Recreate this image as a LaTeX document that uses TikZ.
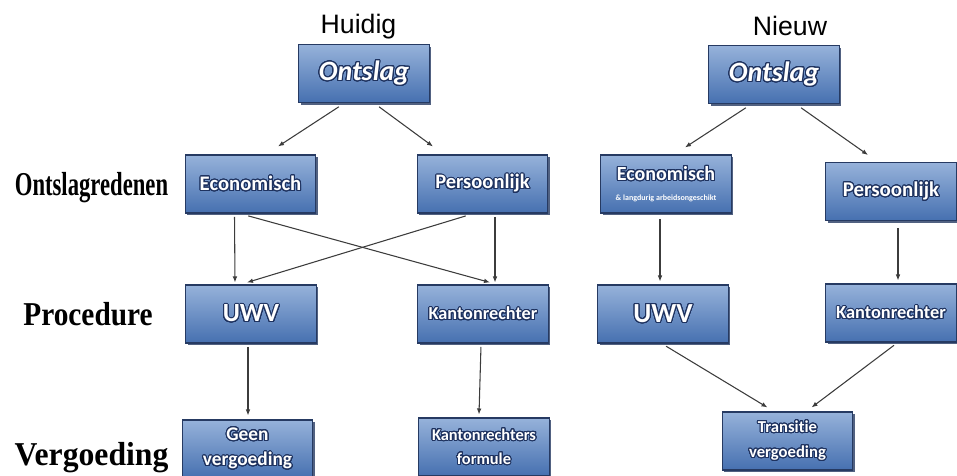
\documentclass[tikz,border=0pt]{standalone}
\usepackage{xcolor}
\usepackage{graphicx}
\usepackage{fontspec}
\usepackage{tikz}
\usepackage{contour}
\usetikzlibrary{arrows.meta,shadows,calc}

\newfontfamily\boxfont{Carlito}[Ligatures=NoCommon]
\newfontfamily\headfont{Liberation Sans}
\newfontfamily\rowfont{Liberation Serif}

\definecolor{blokrand}{RGB}{38,58,98}
\definecolor{bloktop}{RGB}{150,178,218}
\definecolor{blokbodem}{RGB}{70,112,176}
\definecolor{tekstrand}{RGB}{30,50,95}

\contourlength{0.75pt}
\contournumber{32}
\newcommand{\wit}[1]{\contour{tekstrand}{#1}}

\begin{document}
\begin{tikzpicture}[x=0.75pt,y=0.75pt,yscale=-1,xscale=1,
    blok/.style={draw=blokrand, line width=0.8pt, top color=bloktop, bottom color=blokbodem,
        minimum width=98pt, minimum height=43.5pt, inner sep=1pt, align=center, text=white,
        drop shadow={shadow xshift=1.5pt, shadow yshift=-1.5pt, fill=blokrand, opacity=0.8}},
    pijl/.style={draw={rgb,255:red,60;green,60;blue,60}, line width=0.8pt,
        -{Latex[length=4.5pt,width=3.5pt]}, shorten <=1pt},
    rij/.style={font=\rowfont\bfseries\fontsize{25}{30}\selectfont, anchor=base, inner sep=0pt},
    kop/.style={font=\headfont\fontsize{20}{24}\selectfont, anchor=base, inner sep=0pt}]

        \useasboundingbox (0,0) rectangle (957,475);

        % koppen
        \node [kop] (huidig) at (358.5,33) {Huidig};
        \node [kop] (nieuw) at (790,35) {Nieuw};

        % rijen
        \node [rij] (ontslagredenen) at (91.5,195) {\scalebox{0.68}[1]{Ontslagredenen}};
        \node [rij] (procedure) at (88,325) {\scalebox{0.88}[1]{Procedure}};
        \node [rij] (vergoeding) at (91.5,465) {\scalebox{0.95}[1]{Vergoeding}};

        % huidig
        \node [blok, font=\boxfont\bfseries\itshape\fontsize{21}{24}\selectfont] (ontslagH) at (364,73.5) {\wit{Ontslag}};
        \node [blok, font=\boxfont\bfseries\fontsize{15.5}{18}\selectfont] (econH) at (250.5,184) {\wit{Economisch}};
        \node [blok, font=\boxfont\bfseries\fontsize{15.4}{18}\selectfont] (persH) at (482.5,184) {\wit{Persoonlijk}};
        \node [blok, font=\boxfont\bfseries\fontsize{19.7}{22}\selectfont] (uwvH) at (251,314) {\wit{UWV}};
        \node [blok, font=\boxfont\bfseries\fontsize{13.7}{16}\selectfont] (kantonH) at (483,314) {\wit{Kantonrechter}};
        \node [blok, font=\boxfont\bfseries\fontsize{14.5}{19}\selectfont] (geenH) at (247.5,449) {\wit{Geen}\\\wit{vergoeding}};
        \node [blok, font=\boxfont\bfseries\fontsize{12.3}{18}\selectfont] (formuleH) at (484,447) {\wit{Kantonrechters}\\\wit{formule}};

        % nieuw
        \node [blok, font=\boxfont\bfseries\itshape\fontsize{21}{24}\selectfont] (ontslagN) at (774,74.5) {\wit{Ontslag}};
        \node [blok, font=\boxfont\bfseries\fontsize{15}{17}\selectfont] (econN) at (666,184) {\wit{Economisch}\\[-2pt]{\fontsize{6}{7}\selectfont \& langdurig arbeidsongeschikt}};
        \node [blok, font=\boxfont\bfseries\fontsize{15.7}{18}\selectfont] (persN) at (891,191.5) {\wit{Persoonlijk}};
        \node [blok, font=\boxfont\bfseries\fontsize{20.7}{22}\selectfont] (uwvN) at (663,314) {\wit{UWV}};
        \node [blok, font=\boxfont\bfseries\fontsize{13.8}{16}\selectfont] (kantonN) at (891,313) {\wit{Kantonrechter}};
        \node [blok, font=\boxfont\bfseries\fontsize{12.5}{18.75}\selectfont] (transN) at (787.5,441) {\wit{Transitie}\\\wit{vergoeding}};

        % pijlen huidig
        \draw [pijl] ($(ontslagH.south)+(-24,3)$) -- ($(econH.north)+(27.5,-8)$);
        \draw [pijl] ($(ontslagH.south)+(14,3)$) -- ($(persH.north)+(-49.5,-8)$);
        \draw [pijl] ($(econH.south)+(-16,2)$) -- ($(uwvH.north)+(-16,-2)$);
        \draw [pijl] ($(econH.south)+(-3.5,2)$) -- ($(kantonH.north)+(7,-2)$);
        \draw [pijl] ($(persH.south)+(-15.5,2)$) -- ($(uwvH.north)+(-4,-2)$);
        \draw [pijl] ($(persH.south)+(12.5,2)$) -- ($(kantonH.north)+(12,-2)$);
        \draw [pijl] ($(uwvH.south)+(-3,2)$) -- ($(geenH.north)+(0.5,-4)$);
        \draw [pijl] ($(kantonH.south)+(-2,2)$) -- ($(formuleH.north)+(-5,-3)$);

        % pijlen nieuw
        \draw [pijl] ($(ontslagN.south)+(-27,3)$) -- ($(econN.north)+(19,-7)$);
        \draw [pijl] ($(ontslagN.south)+(26,3)$) -- ($(persN.north)+(-23,-7)$);
        \draw [pijl] ($(econN.south)+(-6,4)$) -- ($(uwvN.north)+(-3,-3)$);
        \draw [pijl] ($(persN.south)+(7,6)$) -- ($(kantonN.north)+(7,-3)$);
        \draw [pijl] ($(uwvN.south)+(2,2)$) -- ($(transN.north)+(-20,-4)$);
        \draw [pijl] ($(kantonN.south)+(4,2)$) -- ($(transN.north)+(24,-4)$);

    \end{tikzpicture}
\end{document}
